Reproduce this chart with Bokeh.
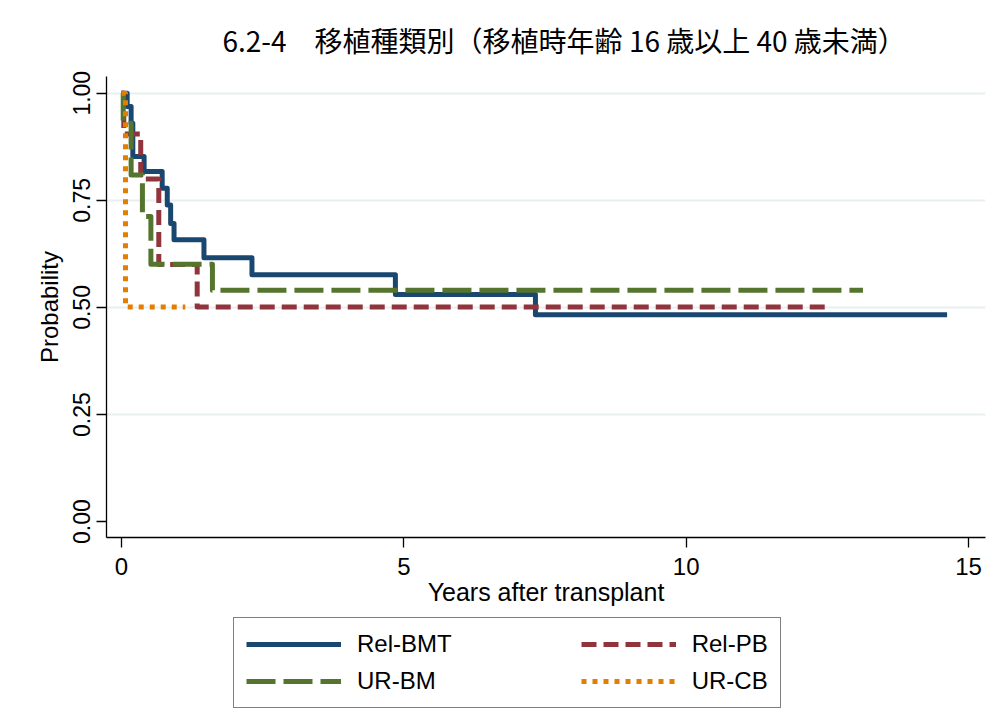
from bokeh.plotting import figure
from bokeh.layouts import column
from bokeh.models import (Range1d, FixedTicker, Legend, LegendItem,
                          PrintfTickFormatter, Title)
from bokeh.embed import file_html
from bokeh.resources import INLINE

# ---------------- data ----------------
title_text = "6.2-4\u3000移植種類別（移植時年齢 16 歳以上 40 歳未満）"
x_label = "Years after transplant"
y_label = "Probability"
x_ticks = [0, 5, 10, 15]
y_ticks = [0.0, 0.25, 0.5, 0.75, 1.0]
grid_ticks = [0.25, 0.5, 0.75, 1.0]

series_names = ["Rel-BMT", "Rel-PB", "UR-BM", "UR-CB"]
series_colors = ["#1a476f", "#90353b", "#55752f", "#e37e00"]
series_dashes = ["solid", "15 7", "29 8", "5 6"]

rel_bmt_t = [0.0, 0.10, 0.17, 0.20, 0.40, 0.72, 0.81, 0.87, 0.93, 1.46, 2.31, 4.85, 7.33, 14.62]
rel_bmt_s = [1.0, 0.969, 0.930, 0.852, 0.817, 0.778, 0.739, 0.696, 0.658, 0.616, 0.576, 0.530, 0.483, 0.483]

rel_pb_t = [0.0, 0.04, 0.34, 0.66, 1.34, 12.54]
rel_pb_s = [1.0, 0.905, 0.800, 0.600, 0.501, 0.501]

ur_bm_t = [0.0, 0.03, 0.17, 0.37, 0.52, 1.61, 13.13]
ur_bm_s = [1.0, 0.930, 0.809, 0.712, 0.601, 0.540, 0.540]

ur_cb_t = [0.0, 0.07, 1.13]
ur_cb_s = [1.0, 0.501, 0.501]

series_t = [rel_bmt_t, rel_pb_t, ur_bm_t, ur_cb_t]
series_s = [rel_bmt_s, rel_pb_s, ur_bm_s, ur_cb_s]

FONT = "Liberation Sans"

# ---------------- main figure ----------------
p = figure(frame_width=879, frame_height=461,
           min_border_left=106, min_border_right=10, min_border_top=75, min_border_bottom=80,
           x_range=Range1d(-0.266, 15.30), y_range=Range1d(-0.037, 1.039),
           output_backend="svg", toolbar_location=None,
           background_fill_color="white", border_fill_color="white")
p.outline_line_color = None

p.title = Title(text=title_text, text_font="Noto Sans CJK JP", text_font_size="28px",
                text_font_style="normal", text_color="black", align="left",
                offset=116, standoff=34)

p.xaxis.ticker = FixedTicker(ticks=x_ticks)
p.xaxis.axis_label = x_label
p.xaxis.major_label_text_font_size = "24px"
p.xaxis.axis_label_text_font_size = "25px"
p.xaxis.major_label_standoff = 10
p.xaxis.axis_label_standoff = 0

p.yaxis.ticker = FixedTicker(ticks=y_ticks)
p.yaxis.formatter = PrintfTickFormatter(format="%.2f")
p.yaxis.axis_label = y_label
p.yaxis.major_label_orientation = "vertical"
p.yaxis.major_label_text_font_size = "23px"
p.yaxis.axis_label_text_font_size = "24px"
p.yaxis.major_label_standoff = 6
p.yaxis.axis_label_standoff = 8

for ax in (p.xaxis[0], p.yaxis[0]):
    ax.major_label_text_font = FONT
    ax.axis_label_text_font = FONT
    ax.axis_label_text_font_style = "normal"
    ax.major_label_text_color = "black"
    ax.axis_label_text_color = "black"
    ax.axis_line_color = "black"
    ax.axis_line_width = 1.3
    ax.major_tick_line_color = "black"
    ax.major_tick_line_width = 1.3
    ax.major_tick_out = 10
    ax.major_tick_in = 0
    ax.minor_tick_line_color = None

p.xgrid.visible = False
p.ygrid.ticker = FixedTicker(ticks=grid_ticks)
p.ygrid.grid_line_color = "#e8eff1"
p.ygrid.grid_line_width = 2

# curves (drawn in legend order: later series on top)
for t, s, c, d in zip(series_t, series_s, series_colors, series_dashes):
    p.step(t, s, mode="after", line_color=c, line_width=5, line_dash=d, line_join="round")

# ---------------- legend strip below the plot ----------------
# its view range lies outside the data, so its copies of the curves serve only as legend keys
leg_fig = figure(frame_width=995, frame_height=96, min_border=0,
                 x_range=Range1d(-3, -2), y_range=Range1d(0, 1),
                 x_axis_type=None, y_axis_type=None,
                 output_backend="svg", toolbar_location=None,
                 background_fill_color="white", border_fill_color="white")
leg_fig.outline_line_color = None
leg_fig.grid.visible = False

keys = [leg_fig.step(t, s, mode="after", line_color=c, line_width=5, line_dash=d)
        for t, s, c, d in zip(series_t, series_s, series_colors, series_dashes)]
gap_key = leg_fig.line(x=[], y=[], line_alpha=0)

legend = Legend(
    items=[LegendItem(label=series_names[0], renderers=[keys[0]]),
           LegendItem(label="", renderers=[gap_key]),
           LegendItem(label=series_names[1], renderers=[keys[1]]),
           LegendItem(label=series_names[2], renderers=[keys[2]]),
           LegendItem(label="", renderers=[gap_key]),
           LegendItem(label=series_names[3], renderers=[keys[3]])],
    orientation="horizontal", ncols=3, location=(233, 5), margin=0,
    glyph_width=95, glyph_height=24, label_height=24, label_width=0, label_standoff=16,
    spacing=9, padding=12,
    border_line_color="black", border_line_width=1.5,
    background_fill_color="white", background_fill_alpha=1,
    item_background_fill_alpha=0,
    label_text_font=FONT, label_text_font_size="24px", label_text_color="black")
leg_fig.add_layout(legend)

layout = column(p, leg_fig, spacing=0)
open("out.html", "w").write(file_html(layout, INLINE))
